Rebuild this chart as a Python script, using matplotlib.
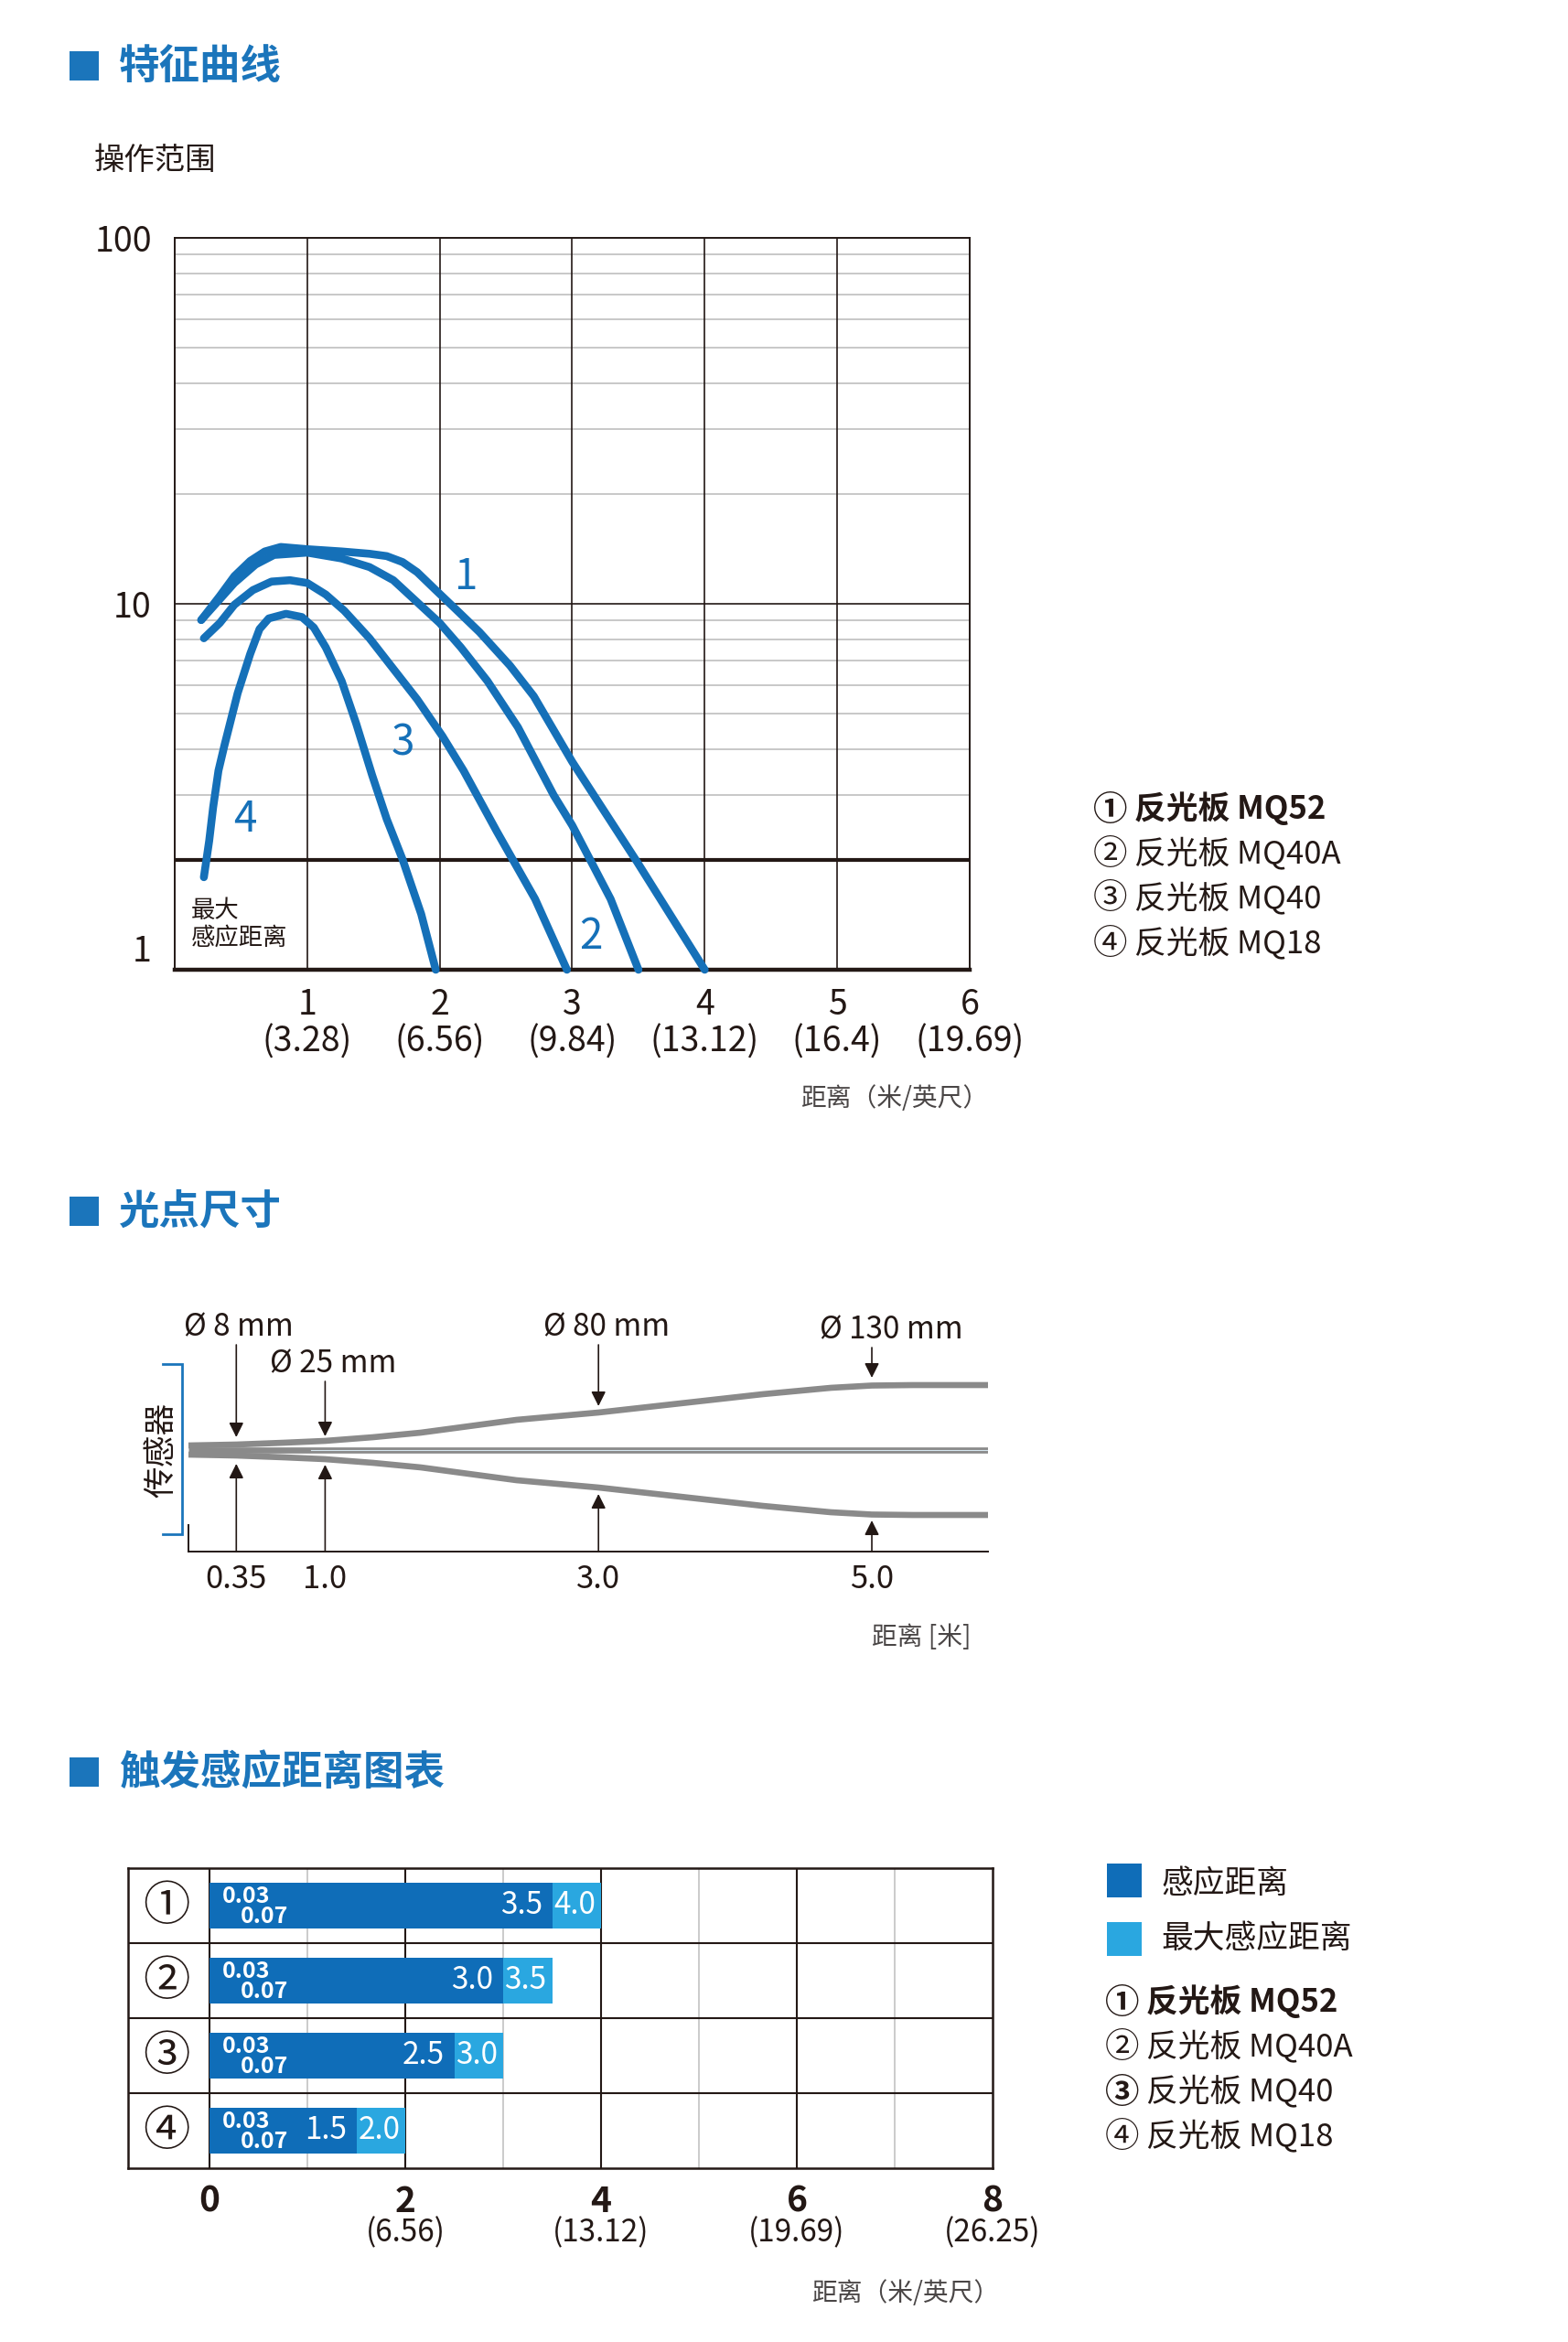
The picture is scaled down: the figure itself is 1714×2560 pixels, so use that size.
import matplotlib
matplotlib.use("Agg")
import matplotlib.pyplot as plt
from matplotlib.patches import Rectangle
from matplotlib.transforms import blended_transform_factory

plt.rcParams['font.family'] = ['Noto Sans CJK SC', 'DejaVu Sans']

W, H = 1715, 2560
BLUE = '#1570b8'
TBLUE = '#1b75bb'
DARK = '#0f6db8'
LIGHT = '#2aa7e0'
INK = '#231815'
GRAYTXT = '#4a4646'
BEAM = '#8a8a8a'

# ---------------- data ----------------
# characteristic curves (distance m, operating range)
c1_x = [0.20, 0.34, 0.45, 0.57, 0.68, 0.80, 1.00, 1.26, 1.47, 1.60, 1.72, 1.83, 1.97, 2.11,
        2.30, 2.53, 2.71, 3.00, 3.49, 4.00]
c1_y = [9.03, 10.5, 11.9, 13.1, 13.9, 14.3, 14.1, 13.9, 13.7, 13.5, 13.0, 12.2, 10.9, 9.75,
        8.37, 6.78, 5.59, 3.70, 1.97, 1.0]
c2_x = [0.20, 0.45, 0.61, 0.75, 1.00, 1.26, 1.47, 1.65, 1.83, 2.00, 2.16, 2.36, 2.59, 2.86,
        3.00, 3.29, 3.50]
c2_y = [9.03, 11.4, 12.8, 13.6, 13.8, 13.3, 12.6, 11.6, 10.1, 8.86, 7.6, 6.15, 4.6, 3.0,
        2.48, 1.56, 1.0]
c3_x = [0.22, 0.34, 0.45, 0.59, 0.73, 0.87, 1.00, 1.14, 1.28, 1.47, 1.65, 1.83, 2.02, 2.18,
        2.43, 2.72, 2.96]
c3_y = [8.05, 8.86, 9.94, 10.9, 11.5, 11.6, 11.4, 10.6, 9.57, 8.05, 6.64, 5.48, 4.35, 3.5,
        2.39, 1.56, 1.0]
c4_x = [0.22, 0.26, 0.29, 0.33, 0.375, 0.475, 0.57, 0.64, 0.71, 0.84, 0.96, 1.05, 1.14, 1.26,
        1.37, 1.49, 1.60, 1.72, 1.86, 1.97]
c4_y = [1.79, 2.25, 2.78, 3.5, 4.1, 5.7, 7.3, 8.53, 9.12, 9.39, 9.2, 8.61, 7.6, 6.15,
        4.7, 3.4, 2.58, 2.0, 1.42, 1.0]
curve_labels = ['1', '2', '3', '4']
curve_label_x = [2.20, 3.14, 1.72, 0.53]
curve_label_y = [11.8, 1.23, 4.17, 2.58]
y_ticks = [1, 10, 100]
x_ticks = [1, 2, 3, 4, 5, 6]
x_tick_ft = ['3.28', '6.56', '9.84', '13.12', '16.4', '19.69']
legend_num = ['①', '②', '③', '④']
legend_txt = ['反光板 MQ52', '反光板 MQ40A', '反光板 MQ40', '反光板 MQ18']

# spot size
beam_x = [0.0, 0.35, 0.7, 1.0, 1.35, 1.7, 2.05, 2.4, 3.0, 3.6, 4.2, 4.7, 5.0, 5.3, 5.85]
beam_half = [5, 6, 8, 10, 14, 19, 26, 33, 41, 51, 61, 68, 70.5, 71, 71]
spot_pos = [0.35, 1.0, 3.0, 5.0]
spot_labels = ['Ø 8 mm', 'Ø 25 mm', 'Ø 80 mm', 'Ø 130 mm']
spot_label_x = [0.37, 1.06, 3.06, 5.14]
spot_ticklabels = ['0.35', '1.0', '3.0', '5.0']
arrow_start = [115, 75, 115, 112]
arrow_down_tip = [14, 15, 48, 79]
arrow_up_tip = [-15, -16, -48, -77]

# trigger sensing distance
rows = ['①', '②', '③', '④']
sense = [3.5, 3.0, 2.5, 1.5]
max_sense = [4.0, 3.5, 3.0, 2.0]
min_hi, min_lo = '0.03', '0.07'
bar_ticks = [0, 2, 4, 6, 8]
bar_tick_ft = ['', '6.56', '13.12', '19.69', '26.25']
bar_legend = ['感应距离', '最大感应距离']

# ---------------- helpers ----------------
fig = plt.figure(figsize=(W / 100, H / 100), dpi=100)


def rect(x0, y0, x1, y1):
    return [x0 / W, 1 - y1 / H, (x1 - x0) / W, (y1 - y0) / H]


def ftext(x, y, s, **kw):
    return fig.text(x / W, 1 - y / H, s, **kw)


def fbox(x0, y0, x1, y1, color):
    fig.add_artist(Rectangle((x0 / W, 1 - y1 / H), (x1 - x0) / W, (y1 - y0) / H,
                             transform=fig.transFigure, color=color, lw=0))


def section(y, title):
    fbox(76, y - 16, 108, y + 16, TBLUE)
    ftext(130, y + 1, title, fontsize=32, fontweight='bold', color=TBLUE, va='center', ha='left')


def legend_list(x, y0, bold_num=()):
    for i, (n, t) in enumerate(zip(legend_num, legend_txt)):
        yy = y0 + 49 * i
        wt = 'bold' if i == 0 else 'normal'
        ftext(x - 1, yy + 1, n, fontsize=27, color=INK, ha='left', va='center',
              fontweight='bold' if (i == 0 or i in bold_num) else 'normal')
        ftext(x + 44, yy, t, fontsize=25, color=INK, ha='left', va='center', fontweight=wt)


# ---------------- section 1 ----------------
section(72, '特征曲线')
ftext(103, 176, '操作范围', fontsize=24, color=INK, va='center', ha='left')

ax1 = fig.add_axes(rect(191, 260, 1060, 1060))
ax1.set_yscale('log')
ax1.set_xlim(0, 6)
ax1.set_ylim(1, 100)
for dec in (1, 10):
    for m in range(2, 10):
        v = dec * m
        if v == 2:
            continue
        ax1.axhline(v, color='#b9b9b9', lw=1.1, zorder=1)
ax1.axhline(10, color=INK, lw=1.2, zorder=2)
ax1.axhline(2, color=INK, lw=3.0, zorder=2)
for xv in x_ticks[:-1]:
    ax1.axvline(xv, color=INK, lw=1.2, zorder=2)
for s in ('left', 'top', 'right'):
    ax1.spines[s].set_linewidth(1.4)
    ax1.spines[s].set_color(INK)
ax1.spines['bottom'].set_linewidth(3.2)
ax1.spines['bottom'].set_color(INK)
ax1.minorticks_off()
ax1.tick_params(length=0)
ax1.set_yticks(y_ticks)
ax1.set_yticklabels([str(v) for v in y_ticks], fontsize=27, color=INK)
ax1.tick_params(axis='y', pad=18)
ax1.get_yticklabels()[0].set_va('bottom')
ax1.set_xticks(x_ticks)
ax1.set_xticklabels([f'{a}\n({b})' for a, b in zip(x_ticks, x_tick_ft)], fontsize=27,
                    color=INK, linespacing=1.05)
ax1.tick_params(axis='x', pad=14)

for cx, cy in ((c1_x, c1_y), (c2_x, c2_y), (c3_x, c3_y), (c4_x, c4_y)):
    ax1.plot(cx, cy, color=BLUE, lw=6.2, solid_capstyle='round', solid_joinstyle='round',
             zorder=4, clip_on=False)
for lab, lx, ly in zip(curve_labels, curve_label_x, curve_label_y):
    ax1.text(lx, ly, lab, fontsize=33, color=BLUE, ha='center', va='center', zorder=5)
ax1.text(0.12, 1.33, '最大\n感应距离', fontsize=19, color=INK, ha='left', va='center',
         linespacing=1.15, zorder=5)

ftext(1080, 1201, '距离（米/英尺）', fontsize=20, color=GRAYTXT, ha='right', va='center')
legend_list(1196, 884)

# ---------------- section 2 ----------------
section(1324, '光点尺寸')
ax2 = fig.add_axes(rect(206, 1440, 1080, 1696))
ax2.set_xlim(0, 5.85)
ax2.set_ylim(-111, 145)
for s in ('left', 'top', 'right'):
    ax2.spines[s].set_visible(False)
ax2.spines['bottom'].set_linewidth(1.4)
ax2.spines['bottom'].set_color(INK)
ax2.set_yticks([])
ax2.set_xticks(spot_pos)
ax2.set_xticklabels(spot_ticklabels, fontsize=25, color=INK)
ax2.tick_params(axis='x', length=0, pad=9)
ax2.plot([0, 0], [-111, -82], color=INK, lw=1.4, clip_on=False)

ax2.plot([beam_x[0], beam_x[-1]], [0, 0], color=BEAM, lw=4.8, solid_capstyle='butt', zorder=3)
ax2.plot([0.9, beam_x[-1]], [0, 0], color='#d6e6ef', lw=0.8, zorder=3.5)
ax2.plot(beam_x, beam_half, color=BEAM, lw=4.8, solid_capstyle='butt',
         solid_joinstyle='round', zorder=3)
ax2.plot(beam_x, [-h for h in beam_half], color=BEAM, lw=4.8, solid_capstyle='butt',
         solid_joinstyle='round', zorder=3)

for xp, a0, td, tu, lab, lx in zip(spot_pos, arrow_start, arrow_down_tip, arrow_up_tip,
                                   spot_labels, spot_label_x):
    ax2.annotate('', xy=(xp, td), xytext=(xp, a0),
                 arrowprops=dict(arrowstyle='-|>', color=INK, lw=1.2, mutation_scale=24,
                                 shrinkA=0, shrinkB=0))
    ax2.annotate('', xy=(xp, tu), xytext=(xp, -111),
                 arrowprops=dict(arrowstyle='-|>', color=INK, lw=1.2, mutation_scale=24,
                                 shrinkA=0, shrinkB=0))
    ax2.text(lx, a0 + 19, lab, fontsize=24, color=INK, ha='center', va='center',
             clip_on=False)

ax2.plot([-0.19, -0.047, -0.047, -0.19], [94, 94, -92, -92], color=TBLUE, lw=2.0,
         clip_on=False, solid_joinstyle='miter')
ax2.text(-0.195, 0, '传感器', rotation=90, fontsize=25, color=INK, ha='center', va='center',
         clip_on=False)
ftext(1061, 1790, '距离 [米]', fontsize=20, color=GRAYTXT, ha='right', va='center')

# ---------------- section 3 ----------------
section(1937, '触发感应距离图表')
ax3 = fig.add_axes(rect(140, 2042, 1085, 2370))
ax3.set_xlim(-0.832, 8)
ax3.set_ylim(len(rows), 0)
for xv in (1, 3, 5, 7):
    ax3.axvline(xv, color='#bdbdbd', lw=1.1, zorder=1)
for xv in (0, 2, 4, 6):
    ax3.axvline(xv, color=INK, lw=1.5, zorder=1)
for yv in range(1, len(rows)):
    ax3.axhline(yv, color=INK, lw=1.5, zorder=1)
for s in ax3.spines.values():
    s.set_linewidth(1.8)
    s.set_color(INK)
ypos = [i + 0.5 for i in range(len(rows))]
ax3.barh(ypos, sense, height=0.6, color=DARK, zorder=3)
ax3.barh(ypos, [m - s for m, s in zip(max_sense, sense)], left=sense, height=0.6,
         color=LIGHT, zorder=3)
for yp, lab, s, m in zip(ypos, rows, sense, max_sense):
    ax3.text(-0.44, yp + 0.02, lab, fontsize=37, color=INK, ha='center', va='center')
    ax3.text(0.13, yp - 0.12, min_hi, fontsize=18, color='white', fontweight='bold',
             ha='left', va='center', zorder=4)
    ax3.text(0.32, yp + 0.145, min_lo, fontsize=18, color='white', fontweight='bold',
             ha='left', va='center', zorder=4)
    ax3.text(s - 0.1, yp, f'{s:.1f}', fontsize=24, color='white', ha='right', va='center', zorder=4)
    ax3.text((s + m) / 2 - 0.02, yp, f'{m:.1f}', fontsize=24, color='white', ha='center',
             va='center', zorder=4)
ax3.set_yticks([])
ax3.set_xticks(bar_ticks)
ax3.set_xticklabels([str(v) for v in bar_ticks], fontsize=28, color=INK, fontweight='bold')
ax3.tick_params(axis='x', length=0, pad=12)
trans = blended_transform_factory(ax3.transData, ax3.transAxes)
for xv, ft in zip(bar_ticks, bar_tick_ft):
    if ft:
        ax3.text(xv, -0.215, f'({ft})', fontsize=24, color=INK, ha='center', va='center',
                 transform=trans)
ftext(1092, 2507, '距离（米/英尺）', fontsize=20, color=GRAYTXT, ha='right', va='center')

fbox(1210, 2037, 1248, 2074, DARK)
fbox(1210, 2101, 1248, 2138, LIGHT)
ftext(1269, 2059, bar_legend[0], fontsize=25, color=INK, ha='left', va='center')
ftext(1269, 2119, bar_legend[1], fontsize=25, color=INK, ha='left', va='center')
legend_list(1209, 2188, bold_num=(2,))

fig.savefig('out.png', dpi=100, facecolor='white')
